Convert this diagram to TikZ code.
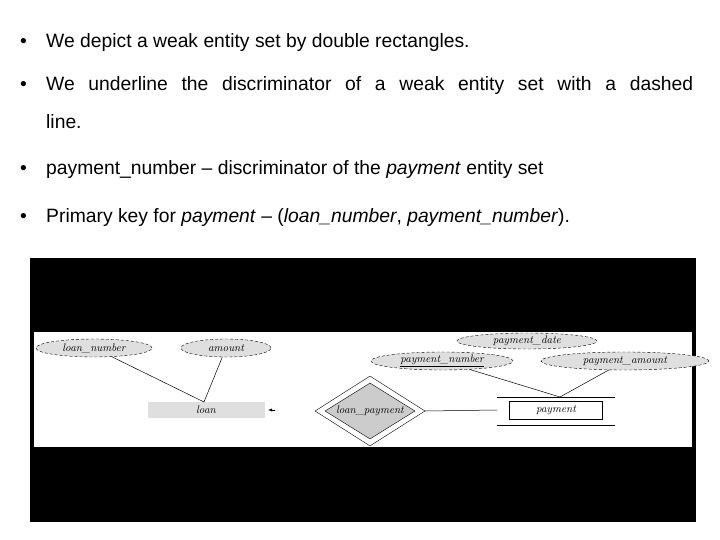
\documentclass[tikz,border=0pt]{standalone}
\usepackage{fontspec}
\setmainfont{Liberation Sans}
\newfontfamily\erfont{Latin Modern Roman}
\usetikzlibrary{shapes.geometric}
\begin{document}
\begin{tikzpicture}[x=1pt,y=-1pt,
  bul/.style={anchor=west,inner sep=0pt,font=\fontsize{19.3}{22}\selectfont},
  attr/.style={ellipse,draw,densely dashed,fill=gray!25,inner sep=0pt,font=\erfont\itshape\fontsize{11}{13}\selectfont},
  ent/.style={fill=gray!25,inner sep=0pt,font=\erfont\itshape\fontsize{11}{13}\selectfont},
  edge/.style={draw,line width=0.5pt}]
\useasboundingbox (0,0) rectangle (720,540);
\fill[white] (0,0) rectangle (720,540);
\foreach \y/\t [count=\i] in {43/We depict a weak entity set by double rectangles.,
  170/{payment\_number -- discriminator of the \textit{payment} entity set},
  218/{Primary key for \textit{payment} -- (\textit{loan\_number}, \textit{payment\_number}).}}
  {\node[bul] (b\i) at (46,\y) {\t};}
\foreach \y [count=\i] in {43,86,170,218} \node[bul] (d\i) at (20,\y) {•};
\node[bul] (b2) at (46,86) {\makebox[647pt][s]{We underline the discriminator of a weak entity set with a dashed}};
\node[bul] (b2b) at (46,122) {line.};
\fill[black] (30,258) rectangle (696,522);
\fill[white] (34,332) rectangle (692,447);
\node[attr,minimum width=116pt,minimum height=18pt] (ln) at (94,348) {loan\_number};
\node[attr,minimum width=90pt,minimum height=18pt] (am) at (226,348) {amount};
\node[attr,minimum width=140pt,minimum height=16pt] (pd) at (527,341) {payment\_date};
\node[attr,minimum width=142pt,minimum height=18pt] (pn) at (442,361) {\underline{payment\_number}};
\node[attr,minimum width=168pt,minimum height=18pt] (pa) at (625,361) {payment\_amount};
\node[ent,minimum width=117pt,minimum height=16pt] (loan) at (206,410) {loan};
\node[diamond,draw,aspect=1.6,minimum width=110pt,minimum height=70pt,inner sep=0pt] (rel) at (370,411) {};
\node[diamond,draw,fill=gray!40,aspect=1.6,minimum width=90pt,minimum height=56pt,inner sep=0pt,font=\erfont\itshape\fontsize{11}{13}\selectfont] (rin) at (370,411) {loan\_payment};
\node[ent,draw,fill=white,minimum width=93pt,minimum height=18pt] (pay) at (556,410) {payment};
\draw (497,397) -- (615,397) (497,425) -- (615,425);
\coordinate (payL) at (497,410);
\coordinate (payT) at (560,397);
\coordinate (loanT) at (204,402);
\draw[edge] (ln) -- (loanT) -- (am);
\draw[edge] (pn) -- (payT) -- (pa);
\draw[edge] (rel.east) -- (payL);
\draw[-latex] (275,410) -- (268,410);
\end{tikzpicture}
\end{document}
